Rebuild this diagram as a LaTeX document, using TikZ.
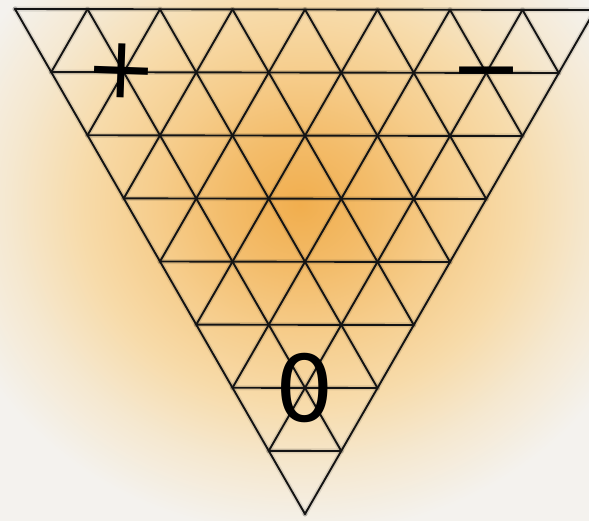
\documentclass[tikz,border=0pt]{standalone}
\usepackage{fontspec}
\newfontfamily\markfont{DejaVu Sans}
\usetikzlibrary{calc}
\definecolor{bgc}{HTML}{F4F2EE}
\definecolor{oa}{HTML}{F1AE4E}
\definecolor{ob}{HTML}{F3BC6A}
\definecolor{oc}{HTML}{F6CD8C}
\definecolor{od}{HTML}{F7DBAA}
\definecolor{oe}{HTML}{F5E8D0}
\pgfdeclareradialshading{glow}{\pgfpoint{0bp}{0bp}}{color(0bp)=(oa); color(5bp)=(ob); color(10bp)=(oc); color(15bp)=(od); color(20bp)=(oe); color(25bp)=(bgc); color(50bp)=(bgc)}
\begin{document}
\begin{tikzpicture}[x=1pt,y=-1pt,
  gridline/.style={line width=1.9pt, black!92, line cap=round, line join=round},
  gridhalo/.style={line width=5pt, black, opacity=0.10, line cap=round},
  signmark/.style={font=\markfont\fontsize{86}{86}\selectfont, inner sep=0pt, text=black}]
\useasboundingbox (0,0) rectangle (589,521);
\clip (0,0) rectangle (589,521);
\fill[bgc] (0,0) rectangle (589,521);
\shade[shading=glow] (300,205) ellipse [x radius=365, y radius=330];
\coordinate (A) at (15,9);
\coordinate (B) at (595,10);
\coordinate (C) at (305,514);
\foreach \st in {gridhalo,gridline}{
  \foreach \k in {0,...,8}{
    \draw[\st] ($(A)!\k/8!(C)$) -- ($(B)!\k/8!(C)$);
    \draw[\st] ($(A)!\k/8!(B)$) -- ($(C)!\k/8!(B)$);
    \draw[\st] ($(A)!\k/8!(B)$) -- ($(A)!\k/8!(C)$);
  }
}
\node[signmark, rotate=-2] (plus) at (121,71) {+};
\node[signmark] (minus) at (487,82) {−};
\node[signmark, font=\markfont\fontsize{92}{92}\selectfont] (zero) at (305,388) {0};
\end{tikzpicture}
\end{document}
